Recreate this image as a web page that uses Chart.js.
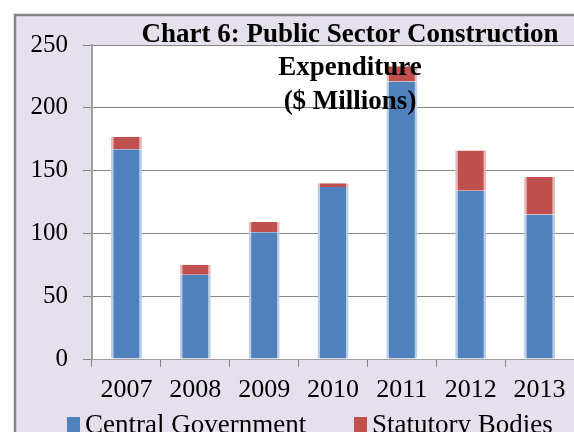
<!DOCTYPE html>
<html>
<head>
<meta charset="utf-8">
<script src="https://cdn.jsdelivr.net/npm/chart.js@4"></script>
<style>
  html, body { margin: 0; padding: 0; background: #fff; overflow: hidden; }
  #wrap { width: 574px; height: 432px; }
</style>
</head>
<body>
<div id="wrap"><canvas id="chart" width="574" height="432"></canvas></div>
<script>
var years = ['2007', '2008', '2009', '2010', '2011', '2012', '2013'];
var centralGov = [167, 67, 101, 137, 221, 134, 115];
var statutory = [10, 8, 8, 3, 12, 32, 30];
var titleLines = ['Chart 6: Public Sector Construction', 'Expenditure', '($ Millions)'];

var serif = '"Liberation Serif", "Times New Roman", serif';
var gridColor = '#868686';

// frame, lavender panel and white plot area; title and legend drawn over the bars
var backdrop = {
    id: 'backdrop',
    beforeDraw: function (chart) {
        var c = chart.ctx, a = chart.chartArea, w = chart.width, h = chart.height;
        c.save();
        c.fillStyle = '#ffffff';
        c.fillRect(0, 0, w, h);
        c.fillStyle = '#e5e0ec';
        c.fillRect(15, 15, w, h);
        c.strokeStyle = gridColor;
        c.lineWidth = 2.5;
        c.beginPath();
        c.moveTo(15, h + 2);
        c.lineTo(15, 15);
        c.lineTo(w + 2, 15);
        c.stroke();
        c.fillStyle = '#ffffff';
        c.fillRect(a.left, a.top, w - a.left, a.bottom - a.top);
        c.restore();
    },
    afterDatasetsDraw: function (chart) {
        var c = chart.ctx;
        c.save();
        c.fillStyle = '#000';
        c.textAlign = 'center';
        c.textBaseline = 'middle';
        c.font = 'bold 27px ' + serif;
        var ys = [35, 68, 102];
        titleLines.forEach(function (t, i) {
            c.fillText(t, 350, ys[i]);
        });
        // legend
        c.font = '27px ' + serif;
        c.textAlign = 'left';
        c.textBaseline = 'alphabetic';
        var lx = [67, 354];
        chart.data.datasets.forEach(function (ds, i) {
            c.fillStyle = ds.backgroundColor;
            c.fillRect(lx[i], 417, 13, 20);
            c.fillStyle = '#000';
            c.fillText(ds.label, lx[i] + 18, 433);
        });
        c.restore();
    }
};

new Chart(document.getElementById('chart'), {
    type: 'bar',
    data: {
        labels: years,
        datasets: [{
            label: 'Central Government',
            data: centralGov,
            backgroundColor: '#4f81bd',
            borderColor: '#b9cde5',
            borderWidth: { left: 2.5, right: 2.5, top: 0, bottom: 0 },
            borderSkipped: false
        }, {
            label: 'Statutory Bodies',
            data: statutory,
            backgroundColor: '#c0504d',
            borderColor: '#e6b9b8',
            borderWidth: { left: 2.5, right: 2.5, top: 0, bottom: 0 },
            borderSkipped: false
        }]
    },
    options: {
        responsive: false,
        animation: false,
        layout: { padding: { left: 15, right: 0, top: 45, bottom: 0 } },
        datasets: { bar: { categoryPercentage: 0.45, barPercentage: 1 } },
        scales: {
            x: {
                stacked: true,
                afterFit: function (s) { s.height = 73; },
                grid: { drawOnChartArea: false, tickLength: 8, color: gridColor },
                border: { color: '#a0a0a0', width: 1 },
                ticks: { color: '#000', padding: 8, font: { family: serif, size: 26 } }
            },
            y: {
                stacked: true,
                min: 0,
                max: 250,
                afterFit: function (s) { s.width = 77; },
                grid: { color: gridColor, tickLength: 9 },
                border: { color: '#a0a0a0', width: 2 },
                ticks: { stepSize: 50, color: '#000', padding: 15, font: { family: serif, size: 25 } }
            }
        },
        plugins: {
            legend: { display: false },
            tooltip: { enabled: false }
        }
    },
    plugins: [backdrop]
});
</script>
</body>
</html>
